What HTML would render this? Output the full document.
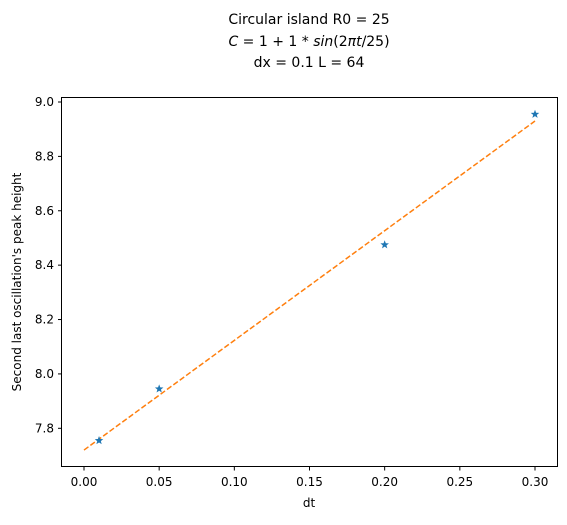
<!DOCTYPE html>
<html><head><meta charset="utf-8"><style>
body{margin:0;background:#fff;font-family:"Liberation Sans","DejaVu Sans",sans-serif}
text{font-family:"DejaVu Sans","Liberation Sans",sans-serif}
</style></head><body>
<svg width="567" height="520" viewBox="0 0 567 520">
<g id="ticks"></g>
<text x="309" y="24" font-size="14" text-anchor="middle">Circular island R0 = 25</text>
<text x="309" y="46" font-size="14" text-anchor="middle"><tspan font-style="italic">C</tspan> = 1 + 1 * <tspan font-style="italic">sin</tspan>(2<tspan font-style="italic">πt</tspan>/25)</text>
<text x="309" y="67" font-size="14" text-anchor="middle">dx = 0.1 L = 64</text>
<g id="marks"></g>
<rect x="61.5" y="97.5" width="496" height="369" fill="none" stroke="#000" stroke-width="1"/>
<text x="309" y="507" font-size="12" text-anchor="middle">dt</text>
<text transform="translate(21,282) rotate(-90)" font-size="12" text-anchor="middle">Second last oscillation's peak height</text>
</svg>
<script>
const xTicks=[0,0.05,0.1,0.15,0.2,0.25,0.3];
const xTickLabels=["0.00","0.05","0.10","0.15","0.20","0.25","0.30"];
const yTicks=[7.8,8.0,8.2,8.4,8.6,8.8,9.0];
const yTickLabels=["7.8","8.0","8.2","8.4","8.6","8.8","9.0"];
const dtValues=[0.01,0.05,0.2,0.3];
const peakValues=[7.755,7.945,8.475,8.955];
const fitX=[0,0.3];
const fitY=[7.72,8.93];
const NS="http://www.w3.org/2000/svg";
function xs(v){return 84+v*(451/0.3);}
function ys(v){return 428.3-(v-7.8)*(326.3/1.2);}
function mk(t,a,p){const e=document.createElementNS(NS,t);for(const k in a)e.setAttribute(k,a[k]);p.appendChild(e);return e;}
const tg=document.getElementById('ticks'),mg=document.getElementById('marks');
xTicks.forEach((v,i)=>{const x=xs(v);
const l=mk('line',{x1:x,x2:x,y1:467,y2:470.5,stroke:'#000'},tg);


const t=mk('text',{x:x,y:486,'font-size':'12','text-anchor':'middle'},tg);t.textContent=xTickLabels[i];

});
yTicks.forEach((v,i)=>{const y=ys(v);
const l=mk('line',{x1:58,x2:61.5,y1:y,y2:y,stroke:'#000'},tg);


const t=mk('text',{x:54,y:y+4,'font-size':'12','text-anchor':'end'},tg);t.textContent=yTickLabels[i];

});
const fl=mk('line',{x1:xs(fitX[0]),y1:ys(fitY[0]),x2:xs(fitX[1]),y2:ys(fitY[1]),stroke:'#ff7f0e','stroke-width':'1.5','stroke-dasharray':'5.5,2.4'},mg);


dtValues.forEach((d,i)=>{const cx=xs(d),cy=ys(peakValues[i]);let p='';
for(let k=0;k<10;k++){const r=k%2?1.9:4.5,a=-Math.PI/2+k*Math.PI/5;p+=(k?'L':'M')+(cx+r*Math.cos(a)).toFixed(2)+' '+(cy+r*Math.sin(a)).toFixed(2);}
const s=mk('path',{d:p+'Z',fill:'#1f77b4'},mg);

});
</script>
</body></html>
